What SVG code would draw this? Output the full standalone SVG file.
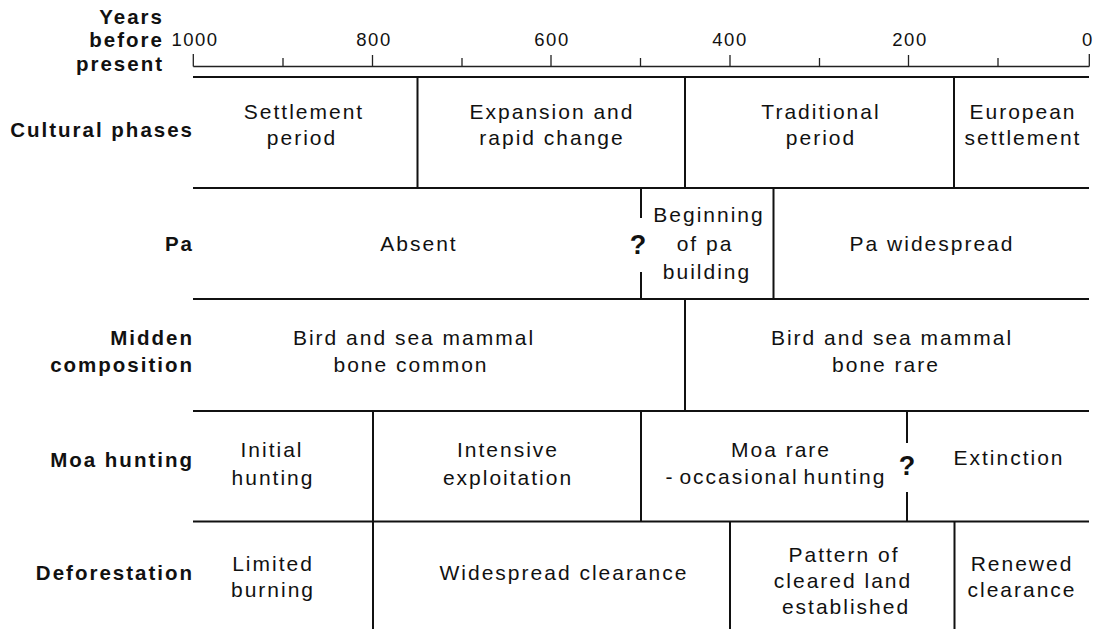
<svg xmlns="http://www.w3.org/2000/svg" width="1103" height="629" viewBox="0 0 1103 629">
<style>
.t{font-family:"Liberation Sans",Arial,sans-serif;font-size:21px;letter-spacing:2px;fill:#111;text-anchor:middle}
.b{font-family:"Liberation Sans",Arial,sans-serif;font-size:20.5px;font-weight:bold;letter-spacing:2px;fill:#111;text-anchor:end}
.n{font-family:"Liberation Sans",Arial,sans-serif;font-size:18.5px;letter-spacing:1.5px;fill:#111;text-anchor:middle}
.q{font-family:"Liberation Sans",Arial,sans-serif;font-size:27px;font-weight:bold;fill:#111;text-anchor:middle}
.g{stroke:#111;stroke-width:2;fill:none}
.a{stroke:#222;stroke-width:1.3;fill:none}
</style>
<rect width="1103" height="629" fill="#fff"/>
<g id="axis">
<text class="b" x="164" y="24">Years</text>
<text class="b" x="164" y="47">before</text>
<text class="b" x="164" y="71">present</text>
<text class="n" x="195" y="46">1000</text>
<text class="n" x="374" y="46">800</text>
<text class="n" x="552" y="46">600</text>
<text class="n" x="730" y="46">400</text>
<text class="n" x="910" y="46">200</text>
<text class="n" x="1088" y="46">0</text>
<path class="a" d="M193.3 66.5H1089.3M193.3 54V66.5M283 58V66.5M372.5 55V66.5M462 58V66.5M551 55V66.5M640.5 58V66.5M730 55V66.5M819.5 58V66.5M908.5 55V66.5M998 58V66.5M1089.3 54V66.5"/>
</g>
<g id="grid">
<path class="g" d="M193 77H1089M193 188H1089M193 299H1089M193 411H1089M193 521.5H1089" stroke-width="2.2"/>
<path class="g" d="M417.5 77V188M685 77V188M954 77V188"/>
<path class="g" d="M641 188V218M641 272V299M773.5 188V299"/>
<path class="g" d="M685 299V411"/>
<path class="g" d="M373 411V629M641 411V521.5M907 411V443M907 492V521.5"/>
<path class="g" d="M730 521.5V629M954.5 521.5V629"/>
</g>
<g id="row-cultural">
<text class="b" x="194" y="137">Cultural phases</text>
<g id="settlement-period"><text class="t" x="304" y="119">Settlement</text><text class="t" x="302" y="145">period</text></g>
<g id="expansion"><text class="t" x="552" y="119">Expansion and</text><text class="t" x="552" y="145">rapid change</text></g>
<g id="traditional"><text class="t" x="821" y="119">Traditional</text><text class="t" x="821" y="145">period</text></g>
<g id="european"><text class="t" x="1023" y="119">European</text><text class="t" x="1023" y="145">settlement</text></g>
</g>
<g id="row-pa">
<text class="b" x="194" y="251">Pa</text>
<g id="absent"><text class="t" x="419" y="251">Absent</text></g>
<g id="q1"><text class="q" x="638" y="254">?</text></g>
<g id="beginning"><text class="t" x="709" y="222">Beginning</text><text class="t" x="705" y="251">of pa</text><text class="t" x="707" y="279">building</text></g>
<g id="pa-widespread"><text class="t" x="932" y="251">Pa widespread</text></g>
</g>
<g id="row-midden">
<text class="b" x="194" y="345">Midden</text>
<text class="b" x="194" y="372">composition</text>
<g id="bone-common"><text class="t" x="414" y="345">Bird and sea mammal</text><text class="t" x="411" y="372">bone common</text></g>
<g id="bone-rare"><text class="t" x="892" y="345">Bird and sea mammal</text><text class="t" x="886" y="372">bone rare</text></g>
</g>
<g id="row-moa">
<text class="b" x="194" y="467">Moa hunting</text>
<g id="initial"><text class="t" x="272" y="457">Initial</text><text class="t" x="273" y="485">hunting</text></g>
<g id="intensive"><text class="t" x="508" y="457">Intensive</text><text class="t" x="508" y="485">exploitation</text></g>
<g id="moa-rare"><text class="t" x="781" y="457">Moa rare</text><text class="t" x="776" y="484" style="word-spacing:-3px">- occasional hunting</text></g>
<g id="q2"><text class="q" x="907" y="475">?</text></g>
<g id="extinction"><text class="t" x="1009" y="465">Extinction</text></g>
</g>
<g id="row-deforestation">
<text class="b" x="194" y="580">Deforestation</text>
<g id="limited"><text class="t" x="273" y="571">Limited</text><text class="t" x="273" y="597">burning</text></g>
<g id="widespread"><text class="t" x="564" y="580">Widespread clearance</text></g>
<g id="pattern"><text class="t" x="844" y="562">Pattern of</text><text class="t" x="843" y="588">cleared land</text><text class="t" x="846" y="614">established</text></g>
<g id="renewed"><text class="t" x="1022" y="571">Renewed</text><text class="t" x="1022" y="597">clearance</text></g>
</g>
</svg>
